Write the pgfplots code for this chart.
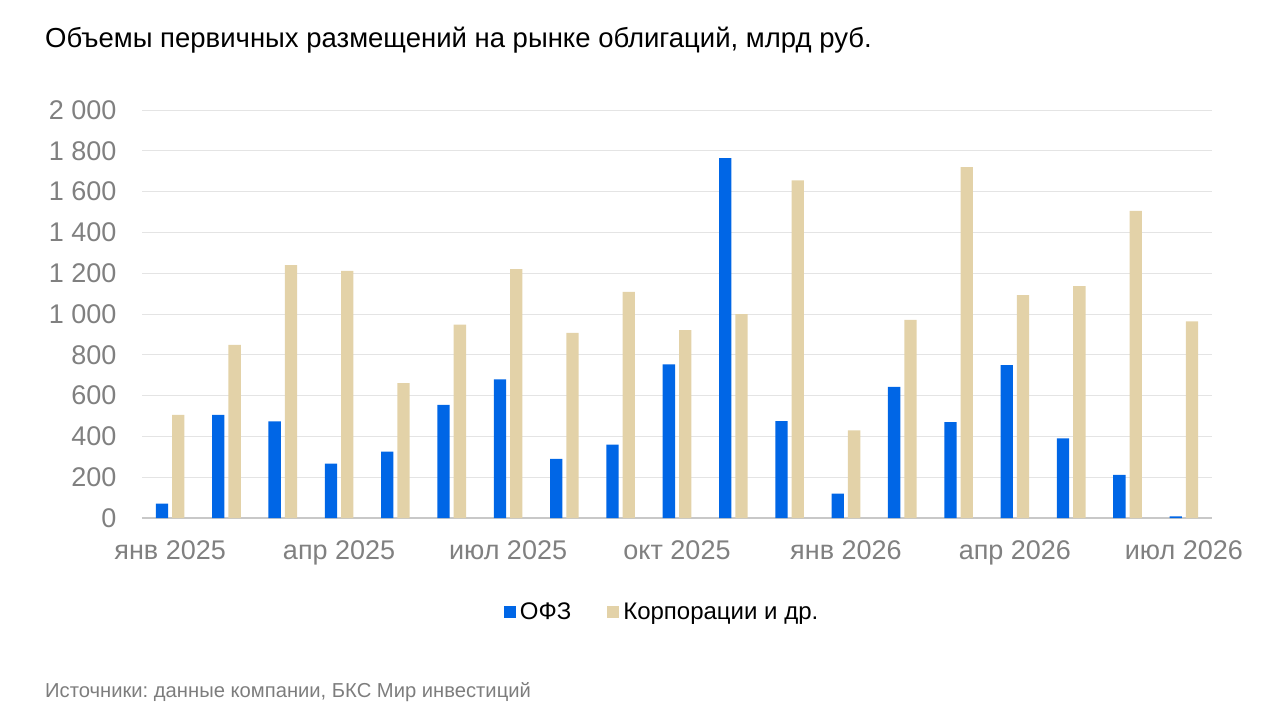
\documentclass[border=0pt]{standalone}
\usepackage{pgfplots}
\pgfplotsset{compat=1.18}
\usepackage{fontspec}
\setmainfont{Liberation Sans}
\frenchspacing
\definecolor{ofz}{RGB}{0,102,230}
\definecolor{corp}{RGB}{227,210,168}
\definecolor{gridc}{RGB}{228,228,228}
\definecolor{axc}{RGB}{200,200,200}
\definecolor{tickc}{RGB}{128,128,128}
\definecolor{srcc}{RGB}{125,125,125}
\pgfplotstableread{
x ofz corp
0 70 505
1 505 849
2 474 1239
3 267 1211
4 325 661
5 554 948
6 680 1220
7 290 907
8 360 1108
9 753 921
10 1764 1000
11 475 1655
12 119 429
13 643 971
14 470 1720
15 750 1093
16 390 1137
17 211 1506
18 8 964
}\data
\begin{document}
\begin{tikzpicture}
\path[use as bounding box] (-142pt,-203pt) rectangle (1138pt,518pt);
\begin{axis}[
  at={(0pt,0pt)}, anchor=south west,
  scale only axis, width=1070pt, height=408pt,
  ybar=4pt, bar width=12.3pt,
  xmin=-0.5, xmax=18.5, ymin=0, ymax=2000,
  axis x line*=bottom, axis y line*=left,
  x axis line style={draw=axc, line width=1.2pt},
  y axis line style={draw=none},
  major tick length=0pt,
  xtick={0,3,6,9,12,15,18},
  xticklabels={янв 2025,апр 2025,июл 2025,окт 2025,янв 2026,апр 2026,июл 2026},
  ytick={0,200,...,2000},
  yticklabels={0,200,400,600,800,1 000,1 200,1 400,1 600,1 800,2 000},
  ymajorgrids, grid style={draw=gridc, line width=0.9pt},
  tick label style={font=\fontsize{27}{27}\selectfont, text=tickc},
  yticklabel style={anchor=east, xshift=-22pt},
  xticklabel style={anchor=base, yshift=-41pt},
  legend style={at={(0.487,-0.23)}, anchor=center, draw=none, fill=none,
    legend columns=2, font=\fontsize{24}{24}\selectfont,
    nodes={inner xsep=4pt},
    /tikz/every even column/.append style={column sep=32pt},
    legend cell align=left},
  legend image code/.code={\fill[#1] (0pt,-6pt) rectangle (12pt,6pt);},
]
\addplot[fill=ofz, draw=none] table[x=x, y=ofz] {\data};
\addplot[fill=corp, draw=none] table[x=x, y=corp] {\data};
\legend{ОФЗ, Корпорации и др.}
\end{axis}
\node[anchor=base west, font=\fontsize{27.5}{27.5}\selectfont, text=black, inner sep=0pt] at (-97pt,470pt) {Объемы первичных размещений на рынке облигаций, млрд руб.};
\node[anchor=base west, font=\fontsize{20.2}{20.2}\selectfont, text=srcc, inner sep=0pt] at (-97pt,-179pt) {Источники: данные компании, БКС Мир инвестиций};
\end{tikzpicture}
\end{document}
